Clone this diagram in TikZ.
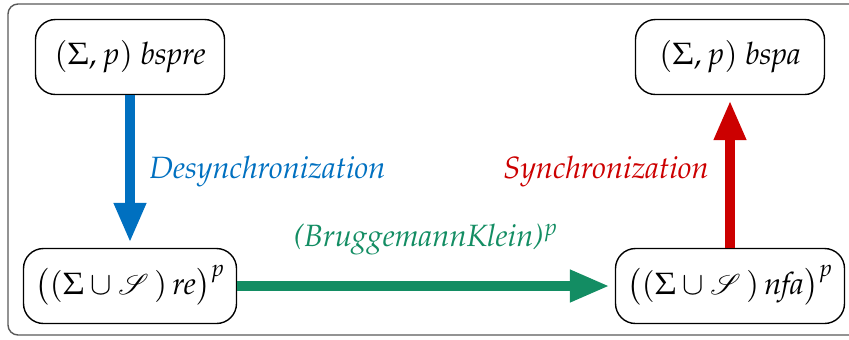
\documentclass[tikz,border=0pt]{standalone}
\usepackage[T1]{fontenc}
\usepackage{mathpazo}
\usepackage{mathrsfs}
\usepackage{tikz}
\usetikzlibrary{arrows.meta}
\usetikzlibrary{positioning}
\definecolor{desblue}{RGB}{0,112,192}
\definecolor{brkgreen}{RGB}{19,141,99}
\definecolor{synred}{RGB}{204,0,0}

\begin{document}
\begin{tikzpicture}[x=0.5pt,y=-0.5pt,box/.style={rectangle, draw, rounded corners=10pt, line width=0.7pt, minimum height=37.5pt, inner xsep=4pt, fill=white}]
    \tikzset{fat/.style={line width=5pt, -{Triangle[width=15pt,length=20pt]}, shorten >=2.5pt}}
    \fontsize{15.4}{18}\selectfont
    \useasboundingbox (0,0) rectangle (849,339);
    \clip (0,0) rectangle (849,339);
    %frame, its right side is cut off
    \draw[rounded corners=5pt, line width=0.7pt, black!65] (8,4) rectangle (920,335);

    \node[box, minimum width=94.5pt] (bspre) at (130,57) {$(\Sigma, p)$ \textit{bspre}};
    \node[box, minimum width=94.5pt] (bspa) at (730,57) {$(\Sigma, p)$ \textit{bspa}};
    \node[box, minimum width=106.5pt] (re) at (130,286) {$\big((\Sigma\cup\mathscr{S}\,)\,\mathit{re}\big)^p$};
    \node[box, minimum width=114.5pt] (nfa) at (730,286) {$\big((\Sigma\cup\mathscr{S}\,)\,\mathit{nfa}\big)^p$};

    \draw[fat, desblue] (bspre) -- (re) node[midway, right=2pt, desblue] {\textit{Desynchronization}};
    \draw[fat, brkgreen] (re) -- (nfa) node[midway, above=8pt, brkgreen] {\textit{(BruggemannKlein)}$^p$};
    \draw[fat, synred] (nfa) -- (bspa) node[midway, left=3pt, synred] {\textit{Synchronization}};
    \end{tikzpicture}
\end{document}
